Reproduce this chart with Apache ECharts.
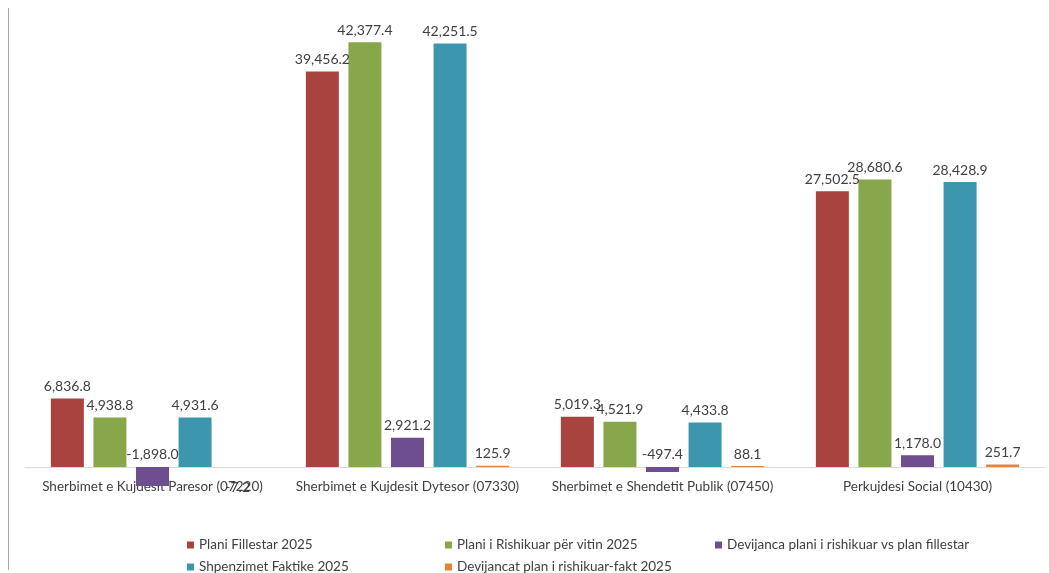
<!DOCTYPE html>
<html>
<head>
<meta charset="utf-8">
<script src="https://cdn.jsdelivr.net/npm/echarts@6/dist/echarts.min.js"></script>
<style>html,body{margin:0;padding:0;background:#fff;}#c{width:1049px;height:573px;}</style>
</head>
<body>
<div id="c"></div>
<script>
const categories = ["Sherbimet e Kujdesit Paresor (07220)", "Sherbimet e Kujdesit Dytesor (07330)", "Sherbimet e Shendetit Publik (07450)", "Perkujdesi Social (10430)"];
const seriesNames = ["Plani Fillestar 2025", "Plani i Rishikuar për vitin 2025", "Devijanca plani i rishikuar vs plan fillestar", "Shpenzimet Faktike 2025", "Devijancat plan i rishikuar-fakt 2025"];
const planiFillestar = [6836.8, 39456.2, 5019.3, 27502.5];
const planiRishikuar = [4938.8, 42377.4, 4521.9, 28680.6];
const devijanca = [-1898.0, 2921.2, -497.4, 1178.0];
const shpenzimet = [4931.6, 42251.5, 4433.8, 28428.9];
const devijancat = [-7.2, 125.9, 88.1, 251.7];
const colors = ["#A9433F", "#88A64A", "#6E4D91", "#3C96AE", "#E8823A"];

const values = [planiFillestar, planiRishikuar, devijanca, shpenzimet, devijancat];
const fmt = v => v.toLocaleString('en-US', {minimumFractionDigits: 1, maximumFractionDigits: 1});

const series = values.map((arr, i) => ({
  name: seriesNames[i],
  type: 'bar',
  barWidth: 33,
  barGap: '29%',
  itemStyle: {color: colors[i]},
  data: arr.map(v => ({
    value: v,
    label: (v < 0 && v > -100) ? {position: 'bottom', distance: 13} : {position: 'top'}
  })),
  label: {
    show: true,
    color: '#404040',
    fontFamily: 'Lato',
    fontSize: 14,
    distance: 5,
    formatter: p => fmt(p.value)
  }
}));

const legendPos = [[182, 533], [440, 533], [710, 533], [182, 555], [440, 555]];
const legends = seriesNames.map((n, i) => ({
  data: [n],
  left: legendPos[i][0],
  top: legendPos[i][1],
  orient: 'horizontal',
  icon: 'rect',
  itemWidth: 7,
  itemHeight: 7,
  itemGap: 5,
  selectedMode: false,
  textStyle: {color: '#404040', fontFamily: 'Lato', fontSize: 13.5}
}));

const chart = echarts.init(document.getElementById('c'));
chart.setOption({
  animation: false,
  backgroundColor: '#ffffff',
  legend: legends,
  grid: {left: 25, right: 4, top: 16, bottom: 86, containLabel: false},
  xAxis: {
    type: 'category',
    data: categories,
    axisLine: {onZero: true, lineStyle: {color: '#d9d9d9', width: 1}},
    axisTick: {show: false},
    axisLabel: {color: '#404040', fontFamily: 'Lato', fontSize: 13.5, margin: -7, interval: 0}
  },
  yAxis: {
    type: 'value',
    min: -2000,
    max: 45000,
    show: false,
    splitLine: {show: false}
  },
  graphic: [
    {type: 'line', shape: {x1: 8.5, y1: 8, x2: 8.5, y2: 570}, style: {stroke: '#a6a6a6', lineWidth: 1}}
  ],
  series: series
});
</script>
</body>
</html>
